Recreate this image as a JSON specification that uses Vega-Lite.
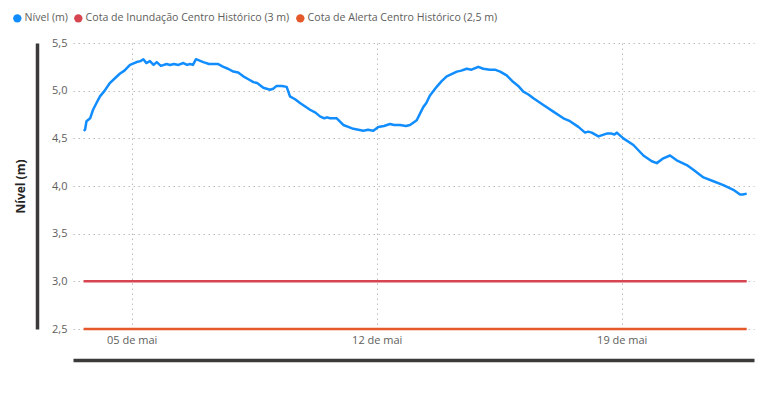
{
  "$schema": "https://vega.github.io/schema/vega-lite/v6.json",
  "width": 681,
  "height": 286,
  "autosize": "none",
  "padding": {"left": 73, "top": 43, "right": 20, "bottom": 66},
  "background": "white",
  "config": {
    "view": {"stroke": null},
    "font": "Open Sans",
    "locale": {
      "number": {"decimal": ",", "thousands": ".", "grouping": [3], "currency": ["R$", ""]},
      "time": {
        "dateTime": "%A, %e de %B de %Y. %X",
        "date": "%d/%m/%Y",
        "time": "%H:%M:%S",
        "periods": ["AM", "PM"],
        "days": ["Domingo", "Segunda", "Terça", "Quarta", "Quinta", "Sexta", "Sábado"],
        "shortDays": ["Dom", "Seg", "Ter", "Qua", "Qui", "Sex", "Sáb"],
        "months": ["Janeiro", "Fevereiro", "Março", "Abril", "Maio", "Junho", "Julho", "Agosto", "Setembro", "Outubro", "Novembro", "Dezembro"],
        "shortMonths": ["jan", "fev", "mar", "abr", "mai", "jun", "jul", "ago", "set", "out", "nov", "dez"]
      }
    }
  },
  "data": {
    "values": [
      {"s": "Nível (m)", "t": "2024-05-03T15:00", "v": 4.58},
      {"s": "Nível (m)", "t": "2024-05-03T16:00", "v": 4.59},
      {"s": "Nível (m)", "t": "2024-05-03T17:00", "v": 4.68},
      {"s": "Nível (m)", "t": "2024-05-03T19:30", "v": 4.71},
      {"s": "Nível (m)", "t": "2024-05-03T21:30", "v": 4.80},
      {"s": "Nível (m)", "t": "2024-05-03T23:30", "v": 4.86},
      {"s": "Nível (m)", "t": "2024-05-04T02:15", "v": 4.94},
      {"s": "Nível (m)", "t": "2024-05-04T05:30", "v": 5.00},
      {"s": "Nível (m)", "t": "2024-05-04T09:00", "v": 5.08},
      {"s": "Nível (m)", "t": "2024-05-04T12:30", "v": 5.13},
      {"s": "Nível (m)", "t": "2024-05-04T16:00", "v": 5.18},
      {"s": "Nível (m)", "t": "2024-05-04T19:00", "v": 5.21},
      {"s": "Nível (m)", "t": "2024-05-04T22:50", "v": 5.27},
      {"s": "Nível (m)", "t": "2024-05-05T03:25", "v": 5.30},
      {"s": "Nível (m)", "t": "2024-05-05T06:00", "v": 5.31},
      {"s": "Nível (m)", "t": "2024-05-05T08:00", "v": 5.33},
      {"s": "Nível (m)", "t": "2024-05-05T10:00", "v": 5.29},
      {"s": "Nível (m)", "t": "2024-05-05T12:30", "v": 5.31},
      {"s": "Nível (m)", "t": "2024-05-05T15:00", "v": 5.27},
      {"s": "Nível (m)", "t": "2024-05-05T17:10", "v": 5.30},
      {"s": "Nível (m)", "t": "2024-05-05T20:00", "v": 5.26},
      {"s": "Nível (m)", "t": "2024-05-06T00:00", "v": 5.28},
      {"s": "Nível (m)", "t": "2024-05-06T02:15", "v": 5.27},
      {"s": "Nível (m)", "t": "2024-05-06T05:00", "v": 5.28},
      {"s": "Nível (m)", "t": "2024-05-06T08:00", "v": 5.27},
      {"s": "Nível (m)", "t": "2024-05-06T11:25", "v": 5.29},
      {"s": "Nível (m)", "t": "2024-05-06T14:00", "v": 5.27},
      {"s": "Nível (m)", "t": "2024-05-06T16:00", "v": 5.28},
      {"s": "Nível (m)", "t": "2024-05-06T18:00", "v": 5.27},
      {"s": "Nível (m)", "t": "2024-05-06T20:05", "v": 5.33},
      {"s": "Nível (m)", "t": "2024-05-07T01:05", "v": 5.30},
      {"s": "Nível (m)", "t": "2024-05-07T05:00", "v": 5.28},
      {"s": "Nível (m)", "t": "2024-05-07T08:00", "v": 5.28},
      {"s": "Nível (m)", "t": "2024-05-07T11:00", "v": 5.28},
      {"s": "Nível (m)", "t": "2024-05-07T14:50", "v": 5.25},
      {"s": "Nível (m)", "t": "2024-05-07T18:00", "v": 5.23},
      {"s": "Nível (m)", "t": "2024-05-07T21:40", "v": 5.20},
      {"s": "Nível (m)", "t": "2024-05-08T01:00", "v": 5.19},
      {"s": "Nível (m)", "t": "2024-05-08T04:30", "v": 5.15},
      {"s": "Nível (m)", "t": "2024-05-08T08:00", "v": 5.12},
      {"s": "Nível (m)", "t": "2024-05-08T11:25", "v": 5.09},
      {"s": "Nível (m)", "t": "2024-05-08T14:00", "v": 5.08},
      {"s": "Nível (m)", "t": "2024-05-08T18:15", "v": 5.03},
      {"s": "Nível (m)", "t": "2024-05-08T22:50", "v": 5.01},
      {"s": "Nível (m)", "t": "2024-05-09T01:00", "v": 5.02},
      {"s": "Nível (m)", "t": "2024-05-09T03:25", "v": 5.05},
      {"s": "Nível (m)", "t": "2024-05-09T07:00", "v": 5.05},
      {"s": "Nível (m)", "t": "2024-05-09T10:15", "v": 5.04},
      {"s": "Nível (m)", "t": "2024-05-09T12:30", "v": 4.94},
      {"s": "Nível (m)", "t": "2024-05-09T16:00", "v": 4.91},
      {"s": "Nível (m)", "t": "2024-05-09T19:25", "v": 4.87},
      {"s": "Nível (m)", "t": "2024-05-10T02:15", "v": 4.80},
      {"s": "Nível (m)", "t": "2024-05-10T06:00", "v": 4.77},
      {"s": "Nível (m)", "t": "2024-05-10T09:05", "v": 4.73},
      {"s": "Nível (m)", "t": "2024-05-10T12:00", "v": 4.71},
      {"s": "Nível (m)", "t": "2024-05-10T14:00", "v": 4.72},
      {"s": "Nível (m)", "t": "2024-05-10T16:00", "v": 4.71},
      {"s": "Nível (m)", "t": "2024-05-10T20:35", "v": 4.71},
      {"s": "Nível (m)", "t": "2024-05-11T01:05", "v": 4.64},
      {"s": "Nível (m)", "t": "2024-05-11T04:30", "v": 4.62},
      {"s": "Nível (m)", "t": "2024-05-11T08:00", "v": 4.60},
      {"s": "Nível (m)", "t": "2024-05-11T14:50", "v": 4.58},
      {"s": "Nível (m)", "t": "2024-05-11T18:00", "v": 4.59},
      {"s": "Nível (m)", "t": "2024-05-11T21:40", "v": 4.58},
      {"s": "Nível (m)", "t": "2024-05-12T01:05", "v": 4.62},
      {"s": "Nível (m)", "t": "2024-05-12T05:00", "v": 4.63},
      {"s": "Nível (m)", "t": "2024-05-12T09:05", "v": 4.65},
      {"s": "Nível (m)", "t": "2024-05-12T12:00", "v": 4.64},
      {"s": "Nível (m)", "t": "2024-05-12T16:00", "v": 4.64},
      {"s": "Nível (m)", "t": "2024-05-12T20:00", "v": 4.63},
      {"s": "Nível (m)", "t": "2024-05-12T22:50", "v": 4.64},
      {"s": "Nível (m)", "t": "2024-05-13T03:25", "v": 4.69},
      {"s": "Nível (m)", "t": "2024-05-13T06:00", "v": 4.77},
      {"s": "Nível (m)", "t": "2024-05-13T08:00", "v": 4.83},
      {"s": "Nível (m)", "t": "2024-05-13T10:00", "v": 4.87},
      {"s": "Nível (m)", "t": "2024-05-13T12:30", "v": 4.95},
      {"s": "Nível (m)", "t": "2024-05-13T17:05", "v": 5.04},
      {"s": "Nível (m)", "t": "2024-05-13T20:30", "v": 5.10},
      {"s": "Nível (m)", "t": "2024-05-14T00:00", "v": 5.15},
      {"s": "Nível (m)", "t": "2024-05-14T06:55", "v": 5.20},
      {"s": "Nível (m)", "t": "2024-05-14T10:00", "v": 5.21},
      {"s": "Nível (m)", "t": "2024-05-14T13:40", "v": 5.23},
      {"s": "Nível (m)", "t": "2024-05-14T17:00", "v": 5.22},
      {"s": "Nível (m)", "t": "2024-05-14T21:40", "v": 5.25},
      {"s": "Nível (m)", "t": "2024-05-15T01:00", "v": 5.23},
      {"s": "Nível (m)", "t": "2024-05-15T05:40", "v": 5.22},
      {"s": "Nível (m)", "t": "2024-05-15T09:00", "v": 5.22},
      {"s": "Nível (m)", "t": "2024-05-15T12:35", "v": 5.20},
      {"s": "Nível (m)", "t": "2024-05-15T17:05", "v": 5.16},
      {"s": "Nível (m)", "t": "2024-05-15T21:40", "v": 5.09},
      {"s": "Nível (m)", "t": "2024-05-16T01:00", "v": 5.05},
      {"s": "Nível (m)", "t": "2024-05-16T04:30", "v": 4.99},
      {"s": "Nível (m)", "t": "2024-05-16T08:00", "v": 4.96},
      {"s": "Nível (m)", "t": "2024-05-16T11:25", "v": 4.92},
      {"s": "Nível (m)", "t": "2024-05-16T18:15", "v": 4.85},
      {"s": "Nível (m)", "t": "2024-05-17T01:05", "v": 4.78},
      {"s": "Nível (m)", "t": "2024-05-17T08:00", "v": 4.71},
      {"s": "Nível (m)", "t": "2024-05-17T12:30", "v": 4.68},
      {"s": "Nível (m)", "t": "2024-05-17T18:15", "v": 4.62},
      {"s": "Nível (m)", "t": "2024-05-17T22:50", "v": 4.56},
      {"s": "Nível (m)", "t": "2024-05-18T01:00", "v": 4.57},
      {"s": "Nível (m)", "t": "2024-05-18T03:25", "v": 4.56},
      {"s": "Nível (m)", "t": "2024-05-18T08:00", "v": 4.52},
      {"s": "Nível (m)", "t": "2024-05-18T13:40", "v": 4.55},
      {"s": "Nível (m)", "t": "2024-05-18T17:00", "v": 4.55},
      {"s": "Nível (m)", "t": "2024-05-18T19:00", "v": 4.54},
      {"s": "Nível (m)", "t": "2024-05-18T20:35", "v": 4.56},
      {"s": "Nível (m)", "t": "2024-05-19T01:05", "v": 4.50},
      {"s": "Nível (m)", "t": "2024-05-19T08:00", "v": 4.43},
      {"s": "Nível (m)", "t": "2024-05-19T14:50", "v": 4.32},
      {"s": "Nível (m)", "t": "2024-05-19T20:35", "v": 4.26},
      {"s": "Nível (m)", "t": "2024-05-20T00:00", "v": 4.24},
      {"s": "Nível (m)", "t": "2024-05-20T04:30", "v": 4.29},
      {"s": "Nível (m)", "t": "2024-05-20T09:05", "v": 4.32},
      {"s": "Nível (m)", "t": "2024-05-20T13:40", "v": 4.27},
      {"s": "Nível (m)", "t": "2024-05-20T20:35", "v": 4.22},
      {"s": "Nível (m)", "t": "2024-05-21T01:05", "v": 4.17},
      {"s": "Nível (m)", "t": "2024-05-21T08:00", "v": 4.09},
      {"s": "Nível (m)", "t": "2024-05-21T14:50", "v": 4.05},
      {"s": "Nível (m)", "t": "2024-05-21T21:40", "v": 4.01},
      {"s": "Nível (m)", "t": "2024-05-22T04:30", "v": 3.96},
      {"s": "Nível (m)", "t": "2024-05-22T09:05", "v": 3.91},
      {"s": "Nível (m)", "t": "2024-05-22T11:00", "v": 3.91},
      {"s": "Nível (m)", "t": "2024-05-22T13:40", "v": 3.92},
      {"s": "Cota de Inundação Centro Histórico (3 m)", "t": "2024-05-03T15:00", "v": 3.0},
      {"s": "Cota de Inundação Centro Histórico (3 m)", "t": "2024-05-22T13:40", "v": 3.0},
      {"s": "Cota de Alerta Centro Histórico (2,5 m)", "t": "2024-05-03T15:00", "v": 2.5},
      {"s": "Cota de Alerta Centro Histórico (2,5 m)", "t": "2024-05-22T13:40", "v": 2.5}
    ]
  },
  "layer": [
    {
      "mark": {"type": "line", "strokeWidth": 2.5, "strokeJoin": "round", "clip": false},
      "encoding": {
        "x": {
          "field": "t", "type": "temporal",
          "scale": {"domain": [
            {"year": 2024, "month": 5, "date": 3, "hours": 7, "minutes": 45},
            {"year": 2024, "month": 5, "date": 22, "hours": 18, "minutes": 40}
          ]},
          "axis": {
            "title": null,
            "format": "%d de %b",
            "values": [
              {"year": 2024, "month": 5, "date": 5},
              {"year": 2024, "month": 5, "date": 12},
              {"year": 2024, "month": 5, "date": 19}
            ],
            "domain": false, "ticks": false,
            "labelPadding": 5,
            "labelFontSize": 11, "labelColor": "#605E5C",
            "grid": true, "gridColor": "#BEBCBA", "gridDash": [1.5, 3.5], "gridWidth": 1
          }
        },
        "y": {
          "field": "v", "type": "quantitative",
          "scale": {"domain": [2.5, 5.5], "nice": false, "zero": false},
          "axis": {
            "title": "Nível (m)",
            "titleFontSize": 12, "titleFontWeight": "bold", "titleColor": "#252423",
            "titlePadding": 24,
            "values": [2.5, 3, 3.5, 4, 4.5, 5, 5.5],
            "format": ".1f",
            "domain": false, "ticks": false,
            "labelPadding": 6,
            "labelFontSize": 11, "labelColor": "#605E5C",
            "grid": true, "gridColor": "#BEBCBA", "gridDash": [1.5, 3.5], "gridWidth": 1
          }
        },
        "color": {
          "field": "s", "type": "nominal",
          "scale": {
            "domain": ["Nível (m)", "Cota de Inundação Centro Histórico (3 m)", "Cota de Alerta Centro Histórico (2,5 m)"],
            "range": ["#118DFF", "#D64550", "#E4582A"]
          },
          "legend": {
            "title": null,
            "orient": "none",
            "direction": "horizontal",
            "legendX": -61,
            "legendY": -30,
            "symbolType": "circle",
            "symbolSize": 70,
            "symbolStrokeWidth": 0,
            "labelFontSize": 10.6,
            "labelColor": "#605E5C",
            "labelLimit": 0,
            "labelOffset": 2,
            "columnPadding": 5,
            "encode": {"symbols": {"update": {"fill": {"scale": "color", "field": "value"}, "stroke": {"value": "transparent"}}}}
          }
        },
        "detail": {"field": "s"}
      }
    },
    {
      "mark": {"type": "point", "opacity": 0},
      "encoding": {
        "x": {
          "field": "t", "type": "temporal",
          "axis": {"title": null, "orient": "bottom", "offset": 31, "labels": false, "ticks": false, "grid": false, "domain": true, "domainColor": "#3B3A39", "domainWidth": 3.5}
        },
        "y": {
          "field": "v", "type": "quantitative",
          "axis": {"title": null, "orient": "left", "offset": 36, "labels": false, "ticks": false, "grid": false, "domain": true, "domainColor": "#3B3A39", "domainWidth": 3.5}
        }
      }
    }
  ],
  "resolve": {"axis": {"x": "independent", "y": "independent"}}
}
